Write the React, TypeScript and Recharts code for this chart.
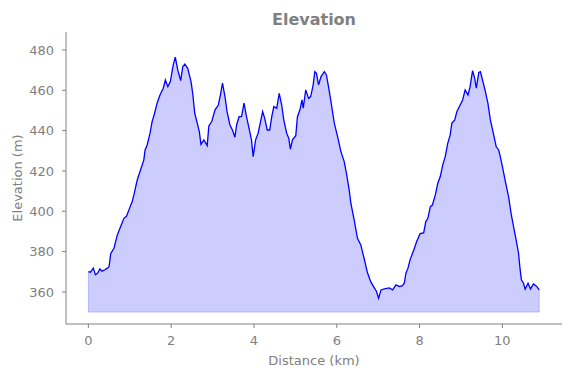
import React from 'react';
import {
  ComposedChart, Area, Line, XAxis, YAxis, ReferenceLine, Label
} from 'recharts';

// distance along the route (km) and elevation (m)
const distanceKm = [
  0.0, 0.05, 0.12, 0.17, 0.22, 0.28, 0.33, 0.4, 0.46, 0.5,
  0.54, 0.62, 0.7, 0.78, 0.86, 0.92, 0.98, 1.06, 1.1, 1.18,
  1.26, 1.34, 1.37, 1.42, 1.49, 1.54, 1.6, 1.66, 1.73, 1.81,
  1.86, 1.92, 1.98, 2.05, 2.1, 2.16, 2.23, 2.28, 2.33, 2.4,
  2.48, 2.52, 2.57, 2.63, 2.68, 2.72, 2.79, 2.87, 2.91, 2.98,
  3.06, 3.14, 3.19, 3.24, 3.3, 3.35, 3.42, 3.48, 3.54, 3.58,
  3.64, 3.7, 3.76, 3.82, 3.88, 3.94, 3.98, 4.04, 4.1, 4.16,
  4.21, 4.26, 4.32, 4.38, 4.43, 4.48, 4.55, 4.61, 4.67, 4.72,
  4.79, 4.84, 4.88, 4.93, 5.01, 5.05, 5.11, 5.16, 5.19, 5.25,
  5.32, 5.37, 5.43, 5.47, 5.51, 5.56, 5.62, 5.7, 5.75, 5.8,
  5.86, 5.94, 6.02, 6.1, 6.18, 6.24, 6.3, 6.34, 6.42, 6.5,
  6.58, 6.66, 6.74, 6.82, 6.9, 6.96, 7.01, 7.07, 7.15, 7.27,
  7.35, 7.43, 7.51, 7.58, 7.63, 7.67, 7.72, 7.77, 7.86, 7.93,
  8.01, 8.1, 8.15, 8.2, 8.26, 8.31, 8.38, 8.44, 8.5, 8.56,
  8.62, 8.68, 8.74, 8.78, 8.85, 8.9, 8.98, 9.04, 9.1, 9.17,
  9.22, 9.28, 9.33, 9.37, 9.43, 9.47, 9.52, 9.58, 9.65, 9.71,
  9.79, 9.85, 9.91, 9.95, 10.01, 10.08, 10.15, 10.21, 10.27, 10.34,
  10.39, 10.43, 10.46, 10.51, 10.55, 10.62, 10.68, 10.75, 10.83, 10.89
];

const elevationM = [
  370.1, 369.8, 371.8, 368.5, 369.2, 371.4, 370.3, 371.0, 371.8, 372.5,
  379.0, 381.8, 388.3, 392.4, 396.5, 397.5, 400.7, 404.8, 408.1, 415.5,
  420.5, 425.5, 430.4, 432.9, 438.7, 444.5, 448.6, 453.6, 457.7, 461.0,
  465.1, 461.8, 464.3, 472.6, 476.4, 470.0, 464.8, 471.7, 473.0, 470.9,
  464.3, 458.5, 448.6, 443.7, 439.5, 433.2, 435.4, 432.6, 442.3, 444.5,
  450.3, 452.7, 457.7, 463.5, 456.9, 449.4, 442.8, 440.3, 436.7, 442.8,
  446.9, 446.9, 453.6, 446.9, 441.2, 435.4, 427.1, 435.4, 438.7, 444.5,
  449.4, 446.1, 440.3, 440.3, 446.9, 451.9, 451.1, 458.5, 452.7, 445.3,
  438.7, 436.2, 430.8, 435.4, 437.5, 446.9, 450.3, 455.2, 451.1, 460.2,
  456.0, 456.9, 462.7, 469.2, 468.4, 462.7, 466.8, 469.2, 467.6, 461.8,
  454.4, 443.7, 437.0, 429.6, 424.6, 418.0, 410.6, 404.0, 395.7, 386.6,
  383.3, 376.7, 369.6, 365.1, 362.3, 360.2, 356.9, 361.0, 361.5, 362.0,
  361.0, 363.5, 362.7, 363.0, 364.3, 369.3, 371.8, 375.9, 380.8, 385.0,
  388.8, 389.4, 394.9, 396.5, 402.3, 403.1, 408.1, 413.9, 417.2, 423.0,
  427.1, 433.7, 437.9, 443.7, 445.3, 449.4, 452.7, 455.2, 460.2, 457.7,
  461.8, 469.7, 466.0, 461.0, 468.8, 469.2, 465.1, 460.2, 453.6, 445.3,
  437.9, 432.1, 430.4, 427.1, 421.3, 413.9, 407.3, 399.0, 392.4, 385.0,
  379.2, 370.9, 366.0, 364.3, 361.4, 364.3, 361.4, 364.0, 362.7, 361.0
];

const xTicks = [0, 2, 4, 6, 8, 10];
const yTicks = [360, 380, 400, 420, 440, 460, 480];
const baseElevation = 350;

const data = distanceKm.map((d, i) => ({ dist: d, elev: elevationM[i] }));

const GREY = '#808080';
const FONT = 'DejaVu Sans, sans-serif';

const Title = () => (
  <text x={314} y={25} textAnchor="middle" fill={GREY}
    style={{ fontFamily: FONT, fontSize: 16, fontWeight: 'bold' }}>
    Elevation
  </text>
);

export default function App() {
  const first = data[0];
  const last = data[data.length - 1];
  return (
    <div style={{ position: 'absolute', left: 0, top: 0, width: 571, height: 378, background: '#fff' }}>
      <ComposedChart width={571} height={378} data={data}
        margin={{ top: 32, right: 9, bottom: 0, left: 0 }}>
        <Title />
        <XAxis dataKey="dist" type="number" domain={[-0.54, 11.44]} ticks={xTicks}
          allowDataOverflow height={54} stroke={GREY} tickSize={4} tickMargin={8}
          tick={{ fill: GREY, fontSize: 13, fontFamily: FONT }}>
          <Label content={({ viewBox }: any) => (
            <text x={viewBox.x + viewBox.width / 2} y={viewBox.y + 41} textAnchor="middle"
              fill={GREY} style={{ fontFamily: FONT, fontSize: 13 }}>Distance (km)</text>
          )} />
        </XAxis>
        <YAxis type="number" domain={[344.1, 488.9]} ticks={yTicks} allowDataOverflow
          width={66} stroke={GREY} tickSize={4} tickMargin={8}
          tick={{ fill: GREY, fontSize: 13, fontFamily: FONT }}>
          <Label content={({ viewBox }: any) => {
            const cx = viewBox.x + 17;
            const cy = viewBox.y + viewBox.height / 2;
            return (
              <text x={cx} y={cy} textAnchor="middle" dominantBaseline="central"
                transform={`rotate(-90 ${cx} ${cy})`} fill={GREY}
                style={{ fontFamily: FONT, fontSize: 13 }}>Elevation (m)</text>
            );
          }} />
        </YAxis>
        <Area dataKey="elev" type="linear" baseValue={baseElevation}
          fill="#0000ff" fillOpacity={0.2} stroke="none" isAnimationActive={false} />
        <ReferenceLine segment={[{ x: first.dist, y: baseElevation }, { x: last.dist, y: baseElevation }]}
          stroke="#0000ff" strokeOpacity={0.2} />
        <ReferenceLine segment={[{ x: first.dist, y: baseElevation }, { x: first.dist, y: first.elev }]}
          stroke="#0000ff" strokeOpacity={0.2} />
        <ReferenceLine segment={[{ x: last.dist, y: baseElevation }, { x: last.dist, y: last.elev }]}
          stroke="#0000ff" strokeOpacity={0.2} />
        <Line dataKey="elev" type="linear" stroke="#0000ff" strokeWidth={1.3}
          dot={false} activeDot={false} isAnimationActive={false} />
      </ComposedChart>
    </div>
  );
}
